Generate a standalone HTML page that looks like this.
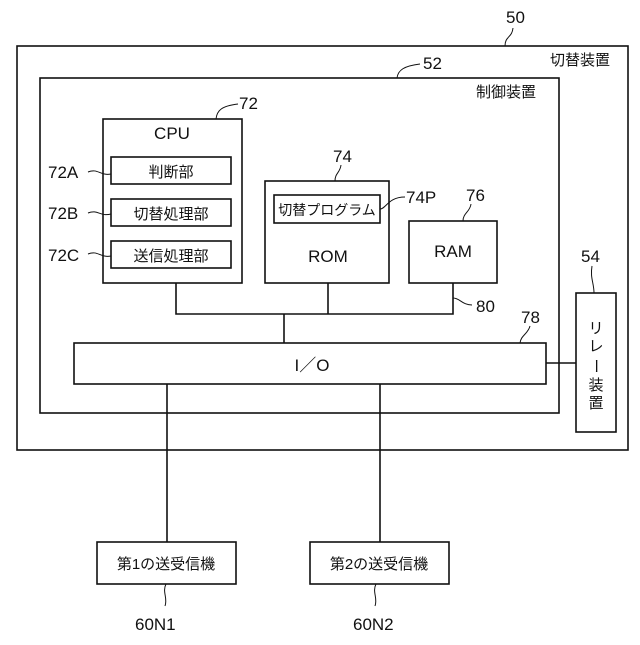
<!DOCTYPE html>
<html><head><meta charset="utf-8"><style>
html,body{margin:0;padding:0;background:#fff}
svg text{font-family:"Liberation Sans","Noto Sans CJK JP",sans-serif;fill:#111}
</style></head><body>
<svg width="640" height="640" viewBox="0 0 640 640" xmlns="http://www.w3.org/2000/svg">
<g fill="none" stroke="#111" stroke-width="1.6">
<rect x="17" y="46" width="611" height="404"/>
<rect x="40" y="78" width="519" height="335"/>
<rect x="103" y="119" width="139" height="164"/>
<rect x="111" y="157" width="120" height="27"/>
<rect x="111" y="199" width="120" height="27"/>
<rect x="111" y="241" width="120" height="27"/>
<rect x="265" y="181" width="124" height="102"/>
<rect x="274" y="195" width="106" height="28"/>
<rect x="409" y="221" width="88" height="62"/>
<rect x="74" y="343" width="472" height="41"/>
<rect x="576" y="293" width="40" height="139"/>
<rect x="97" y="542" width="139" height="42"/>
<rect x="310" y="542" width="139" height="42"/>
<polyline points="176,283 176,314 453,314 453,283"/>
<line x1="328" y1="283" x2="328" y2="314"/>
<line x1="284" y1="314" x2="284" y2="343"/>
<line x1="546" y1="363" x2="576" y2="363"/>
<line x1="167" y1="384" x2="167" y2="542"/>
<line x1="380" y1="384" x2="380" y2="542"/>
</g>
<g fill="none" stroke="#111" stroke-width="1">
<path d="M505,46 C505,36 512,38 513,28"/>
<path d="M397,78 C398,70 404,66 420,64"/>
<path d="M216,119 C217,110 222,106 238,104"/>
<path d="M335,181 C335,173 340,173 341,165"/>
<path d="M380,209 C386,209 388,197 405,197"/>
<path d="M463,221 C463,213 470,212 471,204"/>
<path d="M88,172 C98,168 100,176 111,174"/>
<path d="M88,213 C98,209 100,217 111,214"/>
<path d="M88,254 C98,250 100,258 111,256"/>
<path d="M594,293 C594,283 590,278 592,266"/>
<path d="M453,298 C460,298 462,305 472,305"/>
<path d="M520,343 C521,335 528,334 530,326"/>
<path d="M166,584 C162,592 168,598 165,606"/>
<path d="M376,584 C372,592 378,598 375,606"/>
</g>
<g font-size="17">
<text x="506" y="23">50</text>
<text x="423" y="69">52</text>
<text x="239" y="109">72</text>
<text x="333" y="162">74</text>
<text x="406" y="203">74P</text>
<text x="466" y="201">76</text>
<text x="48" y="178">72A</text>
<text x="48" y="219">72B</text>
<text x="48" y="261">72C</text>
<text x="581" y="262">54</text>
<text x="476" y="312">80</text>
<text x="521" y="323">78</text>
<text x="135" y="630">60N1</text>
<text x="353" y="630">60N2</text>
<text x="172" y="139" text-anchor="middle">CPU</text>
<text x="328" y="262" text-anchor="middle">ROM</text>
<text x="453" y="257" text-anchor="middle">RAM</text>
<text x="312" y="371" text-anchor="middle" font-family="Liberation Serif">I／O</text>
</g>
<g font-size="15">
<text x="580" y="65" text-anchor="middle">切替装置</text>
<text x="506" y="97" text-anchor="middle">制御装置</text>
<text x="171" y="177" text-anchor="middle">判断部</text>
<text x="171" y="219" text-anchor="middle">切替処理部</text>
<text x="171" y="261" text-anchor="middle">送信処理部</text>
<text x="327" y="215" text-anchor="middle" font-size="14">切替プログラム</text>
<text x="166" y="569" text-anchor="middle">第1の送受信機</text>
<text x="379" y="569" text-anchor="middle">第2の送受信機</text>
<text x="596" y="333" text-anchor="middle">リ</text>
<text x="596" y="351" text-anchor="middle">レ</text>
<text x="596" y="371" text-anchor="middle" transform="rotate(90 596 366)">ー</text>
<text x="596" y="390" text-anchor="middle">装</text>
<text x="596" y="408" text-anchor="middle">置</text>
</g>
</svg>
</body></html>
